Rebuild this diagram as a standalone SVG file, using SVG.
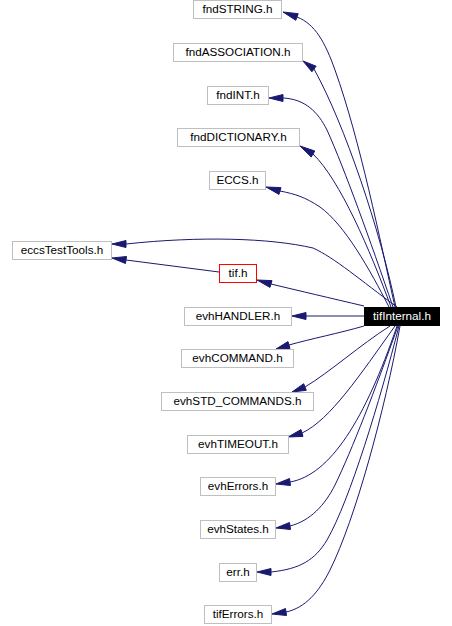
<svg xmlns="http://www.w3.org/2000/svg" width="452" height="626" viewBox="0 0 452 626">
<style>
.bg{fill:#ffffff}
.n rect{fill:#ffffff;stroke:#bfbfbf;stroke-width:1}
.n text{font-family:"Liberation Sans",Arial,Helvetica,sans-serif;font-size:11.7px;fill:#000000;text-anchor:middle}
#n_tif rect{stroke:#ff0000}
#n_tifInternal rect{fill:#000000;stroke:#000000}
#n_tifInternal text{fill:#ffffff}
.e path{fill:none;stroke:#191970;stroke-width:1}
.e polygon{fill:#191970;stroke:#191970;stroke-width:1}
</style>
<rect class="bg" x="0" y="0" width="452" height="626"/>
<g id="edges" class="e">
<path d="M395,307 C380,240 360,140 335,70 C325,42 315,24 297,17"/>
<polygon points="283,12 298.2,13.7 295.8,20.3"/>
<path d="M396,307 C380,230 345,125 314,69"/>
<polygon points="303,61 316.1,66.2 311.9,71.8"/>
<path d="M393,307 C370,240 345,170 327,130 C318,112 305,99 283,98"/>
<polygon points="269,98 283,94.5 283,101.5"/>
<path d="M391,307 C370,250 340,180 313,154"/>
<polygon points="300,146 314.8,151 311.2,157"/>
<path d="M389,307 C370,270 345,225 320,207 C305,197 295,194 280,191"/>
<polygon points="266,187 281,187.6 279,194.4"/>
<path d="M397,307 C360,280 335,258 313,248 C270,238 200,236 126,244"/>
<polygon points="112,244 126,240.5 126,247.5"/>
<path d="M219,272 L126,260"/>
<polygon points="112,258 126.5,256.5 125.5,263.5"/>
<path d="M364,306 C330,298 300,291 271,284"/>
<polygon points="257,280 272,280.6 270,287.4"/>
<path d="M364,316 L306,316"/>
<polygon points="292,316 306,312.5 306,319.5"/>
<path d="M364,326 C340,333 310,339 289,345"/>
<polygon points="276,349 290,348.4 288,341.6"/>
<path d="M390,326 C360,345 330,372 305,387"/>
<polygon points="292,392 306.3,390.3 303.7,383.7"/>
<path d="M395,326 C360,375 330,420 302,433"/>
<polygon points="288,437 303,436.4 301,429.6"/>
<path d="M397,326 C365,420 330,475 290,482"/>
<polygon points="276,484 290.5,485.5 289.5,478.5"/>
<path d="M398,326 C375,390 352,450 335,485 C325,505 310,521 290,526"/>
<polygon points="276,528 290.5,529.5 289.5,522.5"/>
<path d="M399,326 C380,400 350,500 327,540 C315,560 300,569 271,572"/>
<polygon points="257,572 271,568.5 271,575.5"/>
<path d="M400,326 C385,410 355,520 330,570 C319,592 305,608 286,612"/>
<polygon points="272,614 286.5,615.5 285.5,608.5"/>
</g>
<g id="n_fndSTRING" class="n"><rect x="193.5" y="0.5" width="88" height="18"/><text x="237.5" y="12.5">fndSTRING.h</text></g>
<g id="n_fndASSOCIATION" class="n"><rect x="173.5" y="43.5" width="129" height="18"/><text x="238" y="55.5">fndASSOCIATION.h</text></g>
<g id="n_fndINT" class="n"><rect x="207.5" y="86.5" width="61" height="18"/><text x="238" y="98.5">fndINT.h</text></g>
<g id="n_fndDICTIONARY" class="n"><rect x="177.5" y="128.5" width="122" height="18"/><text x="238.5" y="140.5">fndDICTIONARY.h</text></g>
<g id="n_ECCS" class="n"><rect x="209.5" y="171.5" width="56" height="18"/><text x="237.5" y="183.5">ECCS.h</text></g>
<g id="n_eccsTestTools" class="n"><rect x="12.5" y="241.5" width="99" height="18"/><text x="62" y="253.5">eccsTestTools.h</text></g>
<g id="n_tif" class="n"><rect x="219.5" y="264.5" width="37" height="18"/><text x="238" y="276.5">tif.h</text></g>
<g id="n_evhHANDLER" class="n"><rect x="184.5" y="307.5" width="107" height="18"/><text x="238" y="319.5">evhHANDLER.h</text></g>
<g id="n_tifInternal" class="n"><rect x="364.5" y="307.5" width="75" height="18"/><text x="402" y="319.5">tifInternal.h</text></g>
<g id="n_evhCOMMAND" class="n"><rect x="181.5" y="349.5" width="112" height="18"/><text x="237.5" y="361.5">evhCOMMAND.h</text></g>
<g id="n_evhSTD_COMMANDS" class="n"><rect x="161.5" y="392.5" width="152" height="18"/><text x="237.5" y="404.5">evhSTD_COMMANDS.h</text></g>
<g id="n_evhTIMEOUT" class="n"><rect x="187.5" y="435.5" width="101" height="18"/><text x="238" y="447.5">evhTIMEOUT.h</text></g>
<g id="n_evhErrors" class="n"><rect x="200.5" y="477.5" width="75" height="18"/><text x="238" y="489.5">evhErrors.h</text></g>
<g id="n_evhStates" class="n"><rect x="200.5" y="520.5" width="75" height="18"/><text x="238" y="532.5">evhStates.h</text></g>
<g id="n_err" class="n"><rect x="219.5" y="563.5" width="37" height="18"/><text x="238" y="575.5">err.h</text></g>
<g id="n_tifErrors" class="n"><rect x="204.5" y="605.5" width="67" height="18"/><text x="238" y="617.5">tifErrors.h</text></g>
</svg>
